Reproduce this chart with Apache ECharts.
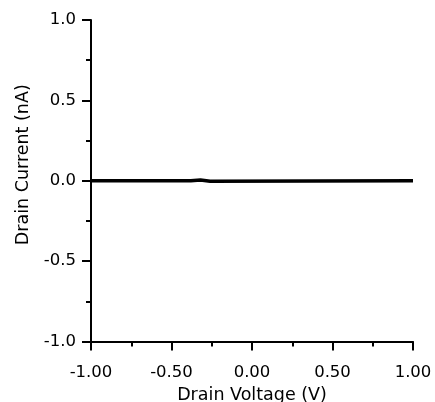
<!DOCTYPE html>
<html>
<head>
<meta charset="utf-8">
<script src="https://cdn.jsdelivr.net/npm/echarts@6/dist/echarts.min.js"></script>
<style>html,body{margin:0;padding:0;background:#fff}#c{width:435px;height:402px}</style>
</head>
<body>
<div id="c"></div>
<script>
var voltage = [-1.0, -0.38, -0.37, -0.32, -0.31, -0.26, -0.25, 1.0];
var current = [0, 0, 0.005, 0.005, -0.003, -0.003, 0, 0];
var xTicks = [-1.0, -0.5, 0.0, 0.5, 1.0];
var yTicks = [-1.0, -0.5, 0.0, 0.5, 1.0];
var xName = 'Drain Voltage (V)';
var yName = 'Drain Current (nA)';

var font = 'DejaVu Sans';
var chart = echarts.init(document.getElementById('c'), null, {renderer: 'canvas'});
var axisCommon = {
  type: 'value',
  nameLocation: 'middle',
  axisLine: {show: true, onZero: false, lineStyle: {color: '#000', width: 2}},
  axisTick: {show: true, inside: false, length: 9, lineStyle: {color: '#000', width: 2}},
  minorTick: {show: true, splitNumber: 2, length: 5, lineStyle: {color: '#000', width: 2}},
  splitLine: {show: false},
  minorSplitLine: {show: false}
};
chart.setOption({
  animation: false,
  backgroundColor: '#fff',
  grid: {left: 91, right: 22, top: 20, bottom: 60.5, containLabel: false, outerBoundsMode: 'none'},
  xAxis: Object.assign({}, axisCommon, {
    min: xTicks[0], max: xTicks[xTicks.length - 1], interval: 0.5,
    name: xName, nameGap: 44,
    nameTextStyle: {fontFamily: font, fontSize: 17.5, color: '#000'},
    axisLabel: {margin: 23, fontFamily: font, fontSize: 16.5, color: '#000',
      formatter: function (v) { return v.toFixed(2); }}
  }),
  yAxis: Object.assign({}, axisCommon, {
    min: yTicks[0], max: yTicks[yTicks.length - 1], interval: 0.5,
    name: yName, nameGap: 54,
    nameTextStyle: {fontFamily: font, fontSize: 17.5, color: '#000', padding: [0, 0, 0, 32]},
    axisLabel: {margin: 15, fontFamily: font, fontSize: 16.5, color: '#000',
      formatter: function (v) { return v.toFixed(1); }}
  }),
  series: [{
    type: 'line',
    data: voltage.map(function (v, i) { return [v, current[i]]; }),
    symbol: 'none',
    lineStyle: {color: '#000', width: 3.5},
    z: 1
  }]
});
</script>
</body>
</html>
